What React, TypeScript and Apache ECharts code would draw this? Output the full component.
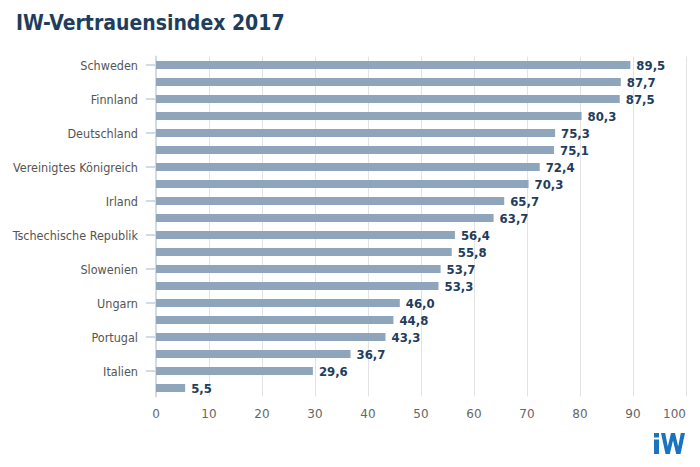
import React, { useEffect, useRef } from "react";
import * as echarts from "echarts";

const categories = [
  "Schweden", "Dänemark", "Finnland", "Niederlande", "Deutschland", "Österreich",
  "Vereinigtes Königreich", "Belgien", "Irland", "Frankreich", "Tschechische Republik",
  "Polen", "Slowenien", "Slowakei", "Ungarn", "Spanien", "Portugal", "Litauen",
  "Italien", "Griechenland",
];
const values = [89.5, 87.7, 87.5, 80.3, 75.3, 75.1, 72.4, 70.3, 65.7, 63.7, 56.4, 55.8, 53.7, 53.3, 46.0, 44.8, 43.3, 36.7, 29.6, 5.5];
const title = "IW-Vertrauensindex 2017";

const FONT = "DejaVu Sans, Verdana, sans-serif";
const FONT_C = "DejaVu Sans Condensed, DejaVu Sans, sans-serif";
const LOGO = "#1a73bf";

export default function App() {
  const ref = useRef<HTMLDivElement>(null);
  useEffect(() => {
    const chart = echarts.init(ref.current!, null, { renderer: "svg" });
    chart.setOption({
      animation: false,
      backgroundColor: "#ffffff",
      title: {
        text: title,
        left: 11,
        top: 7,
        textStyle: { fontFamily: FONT_C, fontSize: 21, fontWeight: "bold", color: "#1f3d5c" },
      },
      grid: { left: 156, right: 14, top: 56.5, bottom: 70.5, containLabel: false },
      xAxis: {
        type: "value",
        min: 0,
        max: 100,
        interval: 10,
        axisLine: { show: false },
        axisTick: { show: false },
        axisLabel: { color: "#666666", fontFamily: FONT, fontSize: 12, margin: 11, alignMaxLabel: "right" },
        splitLine: { show: true, lineStyle: { color: "#e3e3e3", width: 1 } },
      },
      yAxis: {
        type: "category",
        data: categories,
        inverse: true,
        axisLine: { show: true, lineStyle: { color: "#cddbeb", width: 2 } },
        axisTick: { show: true, interval: 1, alignWithLabel: true, length: 10, lineStyle: { color: "#cddbeb", width: 2 } },
        axisLabel: { interval: 1, color: "#555555", fontFamily: FONT_C, fontSize: 12.5, margin: 18 },
        splitLine: { show: false },
      },
      series: [
        {
          type: "bar",
          data: values,
          barWidth: 8,
          itemStyle: { color: "#8fa5bb" },
          label: {
            show: true,
            position: "right",
            distance: 6,
            color: "#1f3d5c",
            fontFamily: FONT_C,
            fontWeight: "bold",
            fontSize: 13,
            formatter: (p: any) => Number(p.value).toFixed(1).replace(".", ","),
          },
        },
      ],
      graphic: [
        { type: "rect", shape: { x: 654, y: 433, width: 5, height: 4.5 }, style: { fill: LOGO } },
        { type: "rect", shape: { x: 654, y: 439.5, width: 5, height: 14.5 }, style: { fill: LOGO } },
        {
          type: "polygon",
          shape: {
            points: [
              [661, 433], [665.5, 454], [669.8, 454], [673, 440.5], [676.2, 454], [680.5, 454],
              [685, 433], [680.8, 433], [678.2, 446.5], [675, 433], [671, 433], [667.8, 446.5], [665.2, 433],
            ],
          },
          style: { fill: LOGO },
        },
      ],
    });
    return () => chart.dispose();
  }, []);
  return (
    <div
      ref={ref}
      style={{ position: "fixed", top: 0, left: 0, width: 700, height: 467 }}
    />
  );
}
